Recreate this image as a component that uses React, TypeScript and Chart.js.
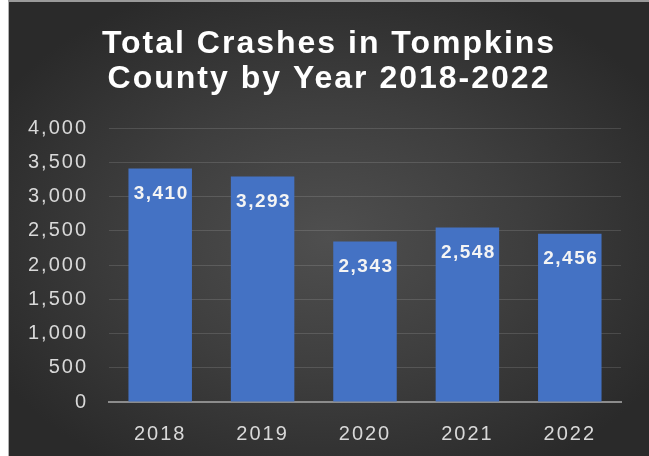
import React, { useEffect, useRef } from "react";
import { Chart, registerables } from "chart.js";

Chart.register(...registerables);

const YEARS = ["2018", "2019", "2020", "2021", "2022"];
const CRASHES = [3410, 3293, 2343, 2548, 2456];
const Y_TICKS = [0, 500, 1000, 1500, 2000, 2500, 3000, 3500, 4000];
const TITLE_LINES = ["Total Crashes in Tompkins", "County by Year 2018-2022"];

const fmt = (v: number) => v.toLocaleString("en-US");
const FAMILY = '"Liberation Sans", Arial, sans-serif';

const spacingPlugin = {
  id: "spacing",
  beforeDraw(chart: any) {
    chart.ctx.letterSpacing = "2px";
  },
  afterDraw(chart: any) {
    chart.ctx.letterSpacing = "0px";
  },
};

const labelPlugin = {
  id: "barLabels",
  afterDatasetsDraw(chart: any) {
    const ctx = chart.ctx;
    const meta = chart.getDatasetMeta(0);
    ctx.save();
    ctx.letterSpacing = "1.5px";
    ctx.font = "bold 19px " + FAMILY;
    ctx.fillStyle = "#f4f4f4";
    ctx.textAlign = "center";
    ctx.textBaseline = "middle";
    meta.data.forEach((bar: any, i: number) => {
      ctx.fillText(fmt(CRASHES[i]), bar.x + 1, bar.y + 25);
    });
    ctx.restore();
  },
};

export default function App() {
  const ref = useRef<HTMLCanvasElement | null>(null);

  useEffect(() => {
    if (!ref.current) return;
    const chart = new Chart(ref.current, {
      type: "bar",
      data: {
        labels: YEARS,
        datasets: [
          {
            data: CRASHES,
            backgroundColor: "#4472C4",
            borderWidth: 0,
            barPercentage: 0.62,
            categoryPercentage: 1.0,
          },
        ],
      },
      options: {
        responsive: false,
        animation: false,
        layout: { padding: 0 },
        plugins: {
          legend: { display: false },
          tooltip: { enabled: false },
          title: {
            display: true,
            text: TITLE_LINES,
            color: "#ffffff",
            font: {
              family: FAMILY,
              size: 32,
              weight: "bold",
              lineHeight: 1.1,
            },
            padding: { top: 24.4, bottom: 31.2 },
          },
        },
        scales: {
          x: {
            grid: { display: false, drawTicks: false },
            border: { display: true, color: "#8c8c8c", width: 2 },
            ticks: {
              color: "#d9d9d9",
              padding: 20,
              font: { family: FAMILY, size: 20 },
            },
            afterFit(scale: any) {
              scale.height = 54;
            },
          },
          y: {
            min: 0,
            max: 4000,
            grid: { color: "rgba(255,255,255,0.13)", lineWidth: 1, drawTicks: false },
            border: { display: false },
            ticks: {
              color: "#d9d9d9",
              padding: 21,
              font: { family: FAMILY, size: 20 },
              callback: (v: any) => fmt(Number(v)),
            },
            afterBuildTicks(scale: any) {
              scale.ticks = Y_TICKS.map((v) => ({ value: v }));
            },
            afterFit(scale: any) {
              scale.width = 100;
            },
          },
          yRight: {
            position: "right",
            display: true,
            grid: { display: false, drawTicks: false },
            border: { display: false },
            ticks: { display: false },
            afterFit(scale: any) {
              scale.width = 28;
            },
          },
        },
      },
      plugins: [spacingPlugin, labelPlugin],
    } as any);
    return () => chart.destroy();
  }, []);

  return (
    <div
      style={{
        position: "fixed",
        left: 8,
        top: 0,
        width: 641,
        height: 456,
        boxSizing: "border-box",
        borderTop: "2px solid #9a9a9a",
        borderLeft: "1px solid #b0b0b0",
        background:
          "radial-gradient(ellipse 60% 60% at 50% 52%, #4f4f4f 0%, #3e3e3e 50%, #2a2a2a 100%)",
      }}
    >
      <canvas ref={ref} width={640} height={454} style={{ display: "block" }} />
    </div>
  );
}
